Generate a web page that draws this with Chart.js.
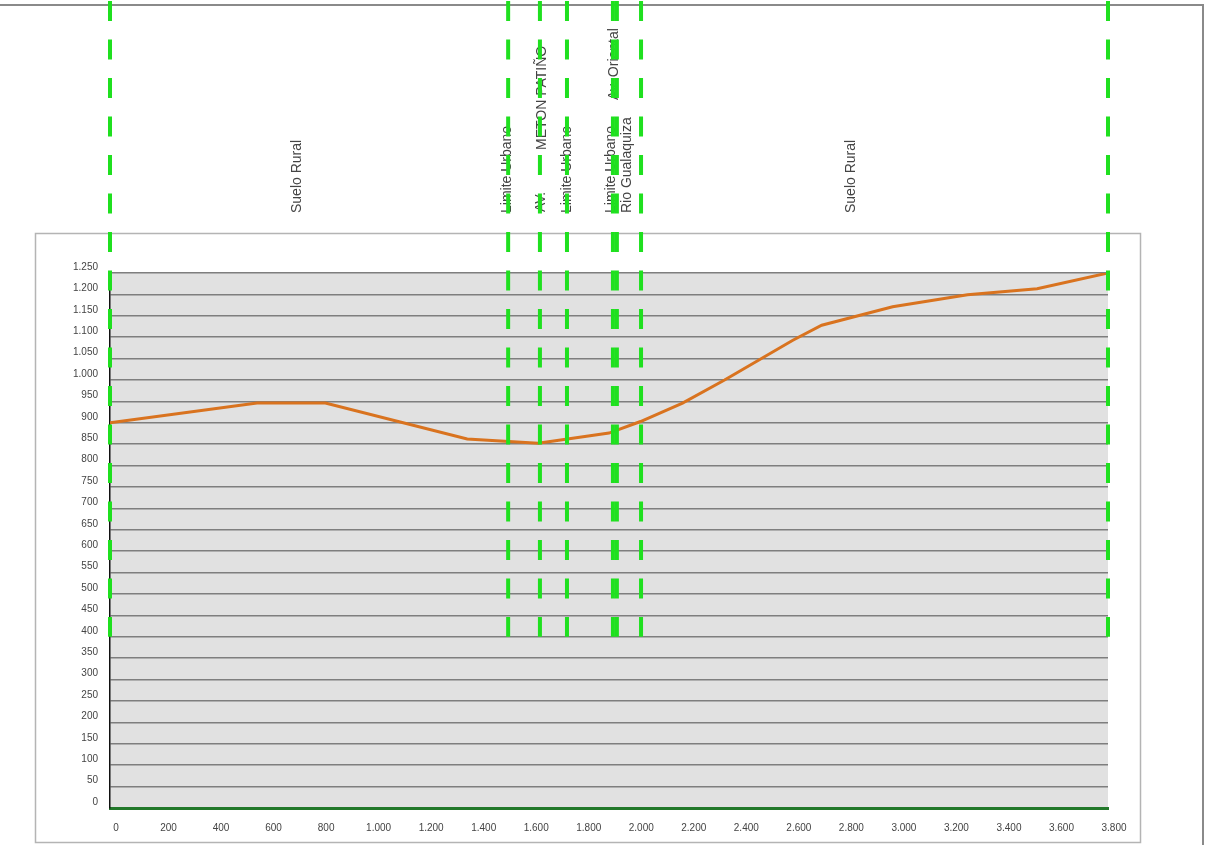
<!DOCTYPE html>
<html>
<head>
<meta charset="utf-8">
<script src="https://cdn.jsdelivr.net/npm/chart.js@4.4.0/dist/chart.umd.min.js"></script>
<style>
  html, body { margin: 0; padding: 0; background: #fff; }
  canvas { display: block; }
</style>
</head>
<body>
<canvas id="perfil" width="1205" height="845"></canvas>
<script>
// profile of the ground (abscisa in m, cota in m)
const abscisas = [0, 560, 820, 1360, 1630, 1900, 2020, 2180, 2340, 2600, 2710, 2980, 3265, 3530, 3800];
const cotas = [900, 946, 946, 862, 852, 876, 903, 946, 1000, 1093, 1128, 1171, 1199, 1213, 1250];

// vertical reference lines (abscisa)
const referencias = [0, 1516, 1637, 1740, 1915, 1930, 2022, 3800];

// texts above the profile
const etiquetas = ['Suelo Rural', 'Limite Urbano', 'AV.', 'METON PATIÑO', 'Limite Urbano', 'Limite Urbano', 'Av. Oriental', 'Rio Gualaquiza', 'Suelo Rural'];
const etiquetasX = [712, 1512, 1641, 1646, 1740, 1910, 1918, 1968, 2822];

const yMin = 0;
const yMax = 1250;
const yStep = 50;
const xMin = 0;
const xMax = 3800;
const xStep = 200;
const lineasHasta = 400; // reference lines go down to this cota

// formats 1250 -> "1.250"
const formatMiles = v => String(Math.round(v)).replace(/\B(?=(\d{3})+(?!\d))/g, '.');

// where each text starts (bottom end, canvas px), same order as etiquetas
const labelBottom = [213, 213, 212, 150, 213, 213, 100, 213, 213];

const fondo = {
    id: 'fondo',
    beforeDraw(chart) {
        const { ctx, chartArea } = chart;
        ctx.save();
        ctx.fillStyle = '#fff';
        ctx.fillRect(0, 0, chart.width, chart.height);
        // outer sheet border
        ctx.strokeStyle = '#8a8a8a';
        ctx.lineWidth = 2;
        ctx.beginPath();
        ctx.moveTo(0, 5);
        ctx.lineTo(1203, 5);
        ctx.lineTo(1203, 845);
        ctx.stroke();
        // inner frame
        ctx.strokeStyle = '#b4b4b4';
        ctx.lineWidth = 1.5;
        ctx.strokeRect(35.5, 233.5, 1105, 609);
        // plot fill
        ctx.fillStyle = '#e1e1e1';
        ctx.fillRect(chartArea.left, chartArea.top, chartArea.right - chartArea.left, chartArea.bottom - chartArea.top);
        ctx.restore();
    }
};

const referenciasPlugin = {
    id: 'referencias',
    afterDatasetsDraw(chart) {
        const { ctx } = chart;
        const xs = chart.scales.x;
        const ys = chart.scales.y;
        ctx.save();
        // texts
        ctx.fillStyle = '#444';
        ctx.font = '14px "Liberation Sans", Arial, sans-serif';
        ctx.textAlign = 'left';
        ctx.textBaseline = 'middle';
        etiquetas.forEach((t, i) => {
            const px = xs.getPixelForValue(etiquetasX[i]);
            ctx.save();
            ctx.translate(px, labelBottom[i]);
            ctx.rotate(-Math.PI / 2);
            ctx.fillText(t, 0, 0);
            ctx.restore();
        });
        // dashed green lines
        const yBottom = ys.getPixelForValue(lineasHasta);
        ctx.strokeStyle = '#1fe01f';
        ctx.lineWidth = 4;
        ctx.setLineDash([20, 18.5]);
        referencias.forEach(r => {
            const px = xs.getPixelForValue(r);
            ctx.beginPath();
            ctx.moveTo(px, 1);
            ctx.lineTo(px, yBottom);
            ctx.stroke();
        });
        ctx.restore();
    }
};

const ctx = document.getElementById('perfil').getContext('2d');
new Chart(ctx, {
    type: 'line',
    data: {
        datasets: [
            {
                label: 'Perfil',
                data: abscisas.map((x, i) => ({ x: x, y: cotas[i] })),
                borderColor: '#d9731f',
                borderWidth: 3,
                pointRadius: 0,
                tension: 0,
                fill: false
            }
        ]
    },
    options: {
        responsive: false,
        animation: false,
        devicePixelRatio: 1,
        layout: {
            padding: { top: 273, right: 97, bottom: 0, left: 0 }
        },
        plugins: {
            legend: { display: false },
            tooltip: { enabled: false }
        },
        scales: {
            x: {
                type: 'linear',
                min: xMin,
                max: xMax,
                afterFit: scale => { scale.height = 37; },
                grid: { display: false, drawTicks: false },
                border: { display: true, color: '#22782a', width: 3 },
                ticks: {
                    stepSize: xStep,
                    padding: 14,
                    labelOffset: 6,
                    maxRotation: 0,
                    color: '#444',
                    font: { family: '"Liberation Sans", Arial, sans-serif', size: 10 },
                    callback: v => formatMiles(v)
                }
            },
            y: {
                min: yMin,
                max: yMax,
                afterFit: scale => { scale.width = 110; },
                grid: { color: '#7e7e7e', lineWidth: 1.5, drawTicks: false },
                border: { display: true, color: '#111', width: 1.5 },
                ticks: {
                    stepSize: yStep,
                    padding: 12,
                    labelOffset: -6,
                    color: '#444',
                    font: { family: '"Liberation Sans", Arial, sans-serif', size: 10 },
                    callback: v => formatMiles(v)
                }
            }
        }
    },
    plugins: [fondo, referenciasPlugin]
});
</script>
</body>
</html>
